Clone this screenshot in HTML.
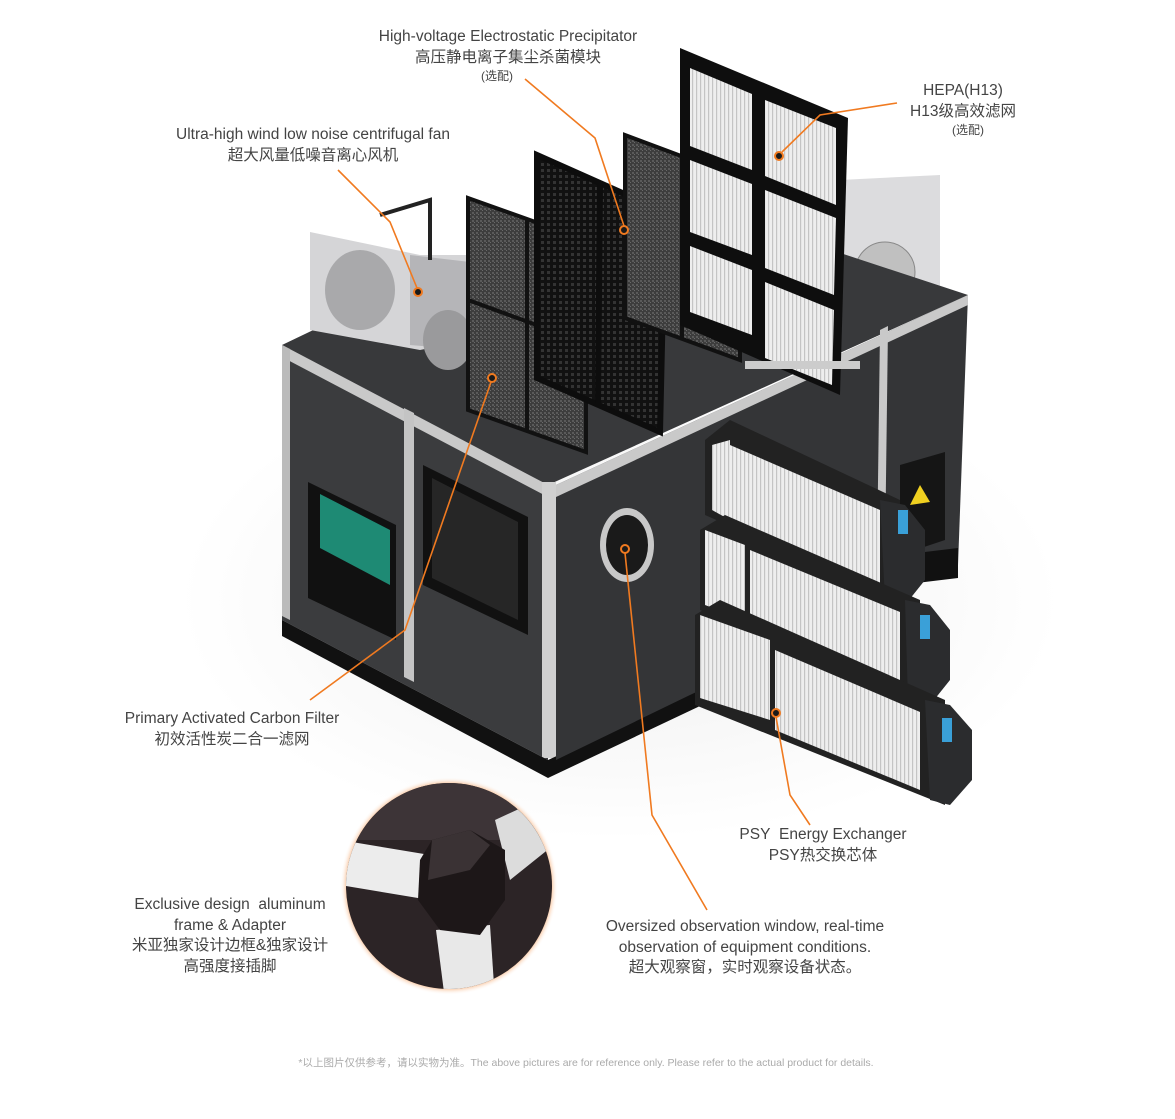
<!DOCTYPE html>
<html><head><meta charset="utf-8"><style>
html,body{margin:0;padding:0;background:#fff;}
body{width:1175px;height:1119px;position:relative;overflow:hidden;font-family:"Liberation Sans","Noto Sans CJK SC",sans-serif;}
.t{position:absolute;text-align:center;color:#444;font-size:15.5px;line-height:20.5px;white-space:nowrap;transform:translateX(-50%);}
.s{font-size:12px;line-height:14px;}
</style></head><body>
<svg width="1175" height="1119" style="position:absolute;left:0;top:0">
<defs>
<pattern id="carb" width="4" height="4" patternUnits="userSpaceOnUse"><rect width="4" height="4" fill="#3d3d3d"/><rect width="2" height="2" fill="#5a5a5a"/><rect x="2" y="2" width="1" height="1" fill="#6a6a6a"/></pattern>
<pattern id="grid" width="6" height="6" patternUnits="userSpaceOnUse"><rect width="6" height="6" fill="#111"/><rect x="1" y="1" width="3" height="3" fill="#333"/></pattern>
<pattern id="fin" width="4" height="10" patternUnits="userSpaceOnUse"><rect width="4" height="10" fill="#eeeeee"/><rect width="1.2" height="10" fill="#c4c4c4"/></pattern>
<radialGradient id="glow" cx="50%" cy="50%" r="50%"><stop offset="92%" stop-color="#f4a060"/><stop offset="100%" stop-color="#fff" stop-opacity="0"/></radialGradient>
<radialGradient id="sh" cx="50%" cy="50%" r="50%"><stop offset="0%" stop-color="#eeeeee"/><stop offset="100%" stop-color="#fff"/></radialGradient>
<clipPath id="cc"><circle cx="449" cy="886" r="103"/></clipPath>
</defs>
<ellipse cx="620" cy="600" rx="440" ry="240" fill="url(#sh)"/>
<!-- right fan -->
<polygon points="840,180 940,175 940,300 840,300" fill="#dcdcde"/>
<circle cx="885" cy="272" r="30" fill="#c0c0c0" stroke="#888"/>
<!-- top face -->
<polygon points="282,345 548,485 968,295 740,220 470,255" fill="#38393b"/>
<!-- left face -->
<polygon points="282,345 548,485 548,760 282,620" fill="#3b3c3e"/>
<polygon points="282,345 548,485 548,497 282,357" fill="#c9c9c9"/>
<polygon points="404,408 414,413 414,682 404,677" fill="#c4c4c4"/>
<polygon points="282,345 290,349 290,620 282,616" fill="#bbb"/>
<polygon points="542,482 556,482 556,758 542,758" fill="#d0d0d0"/>
<polygon points="308,482 396,525 396,640 308,598" fill="#111"/>
<polygon points="320,494 390,530 390,585 320,548" fill="#1e8a74"/>
<polygon points="423,465 528,517 528,635 423,585" fill="#111"/>
<polygon points="432,478 518,522 518,620 432,578" fill="#262626"/>
<polygon points="282,620 548,760 548,778 282,636" fill="#111"/>
<polygon points="548,760 700,690 700,706 548,778" fill="#111"/>
<!-- right face -->
<polygon points="556,485 968,295 958,565 556,760" fill="#343537"/>
<polygon points="556,485 968,295 968,305 556,497" fill="#c9c9c9"/>
<polygon points="880,330 888,326 885,555 877,558" fill="#c9c9c9"/>
<polygon points="900,465 945,452 945,540 900,555" fill="#151515"/>
<polygon points="920,485 930,502 910,505" fill="#f0d020"/>
<polygon points="900,555 958,548 958,578 900,585" fill="#111"/>
<ellipse cx="627" cy="545" rx="27" ry="37" fill="#c8c8c8"/>
<ellipse cx="627" cy="545" rx="21" ry="30" fill="#1a1a1a"/>
<!-- left fan -->
<polygon points="310,232 420,255 470,255 470,340 420,350 310,330" fill="#d5d5d7"/>
<polygon points="410,255 470,262 470,350 410,345" fill="#b5b5b8"/>
<ellipse cx="360" cy="290" rx="35" ry="40" fill="#a9a9ab"/>
<ellipse cx="448" cy="340" rx="25" ry="30" fill="#9a9a9c"/>
<polyline points="380,215 430,200 430,260" fill="none" stroke="#222" stroke-width="4"/>
<!-- carbon filter -->
<polygon points="468,198 586,240 586,452 468,410" fill="url(#carb)" stroke="#111" stroke-width="4"/>
<line x1="527" y1="219" x2="527" y2="431" stroke="#111" stroke-width="4"/>
<line x1="468" y1="300" x2="586" y2="343" stroke="#111" stroke-width="4"/>
<polygon points="537,155 665,212 660,432 537,378" fill="url(#grid)" stroke="#0d0d0d" stroke-width="6"/>
<line x1="600" y1="183" x2="598" y2="405" stroke="#0d0d0d" stroke-width="6"/>
<polygon points="625,135 740,178 740,360 625,318" fill="url(#carb)" stroke="#111" stroke-width="4"/>
<line x1="682" y1="156" x2="682" y2="340" stroke="#111" stroke-width="4"/>
<!-- HEPA -->
<polygon points="680,48 848,118 840,395 680,325" fill="#0e0e0e"/>
<polygon points="690,68 752,94 752,170 690,146" fill="url(#fin)"/>
<polygon points="765,100 836,128 836,205 765,176" fill="url(#fin)"/>
<polygon points="690,160 752,184 752,255 690,232" fill="url(#fin)"/>
<polygon points="765,190 836,218 834,295 765,268" fill="url(#fin)"/>
<polygon points="690,246 752,270 752,335 690,312" fill="url(#fin)"/>
<polygon points="765,282 834,310 832,385 765,358" fill="url(#fin)"/>
<line x1="745" y1="365" x2="860" y2="365" stroke="#ccc" stroke-width="8"/>
<!-- exchangers -->
<g>
<polygon points="705,440 730,420 900,500 900,600 705,515" fill="#222"/>
<polygon points="730,445 880,510 880,590 730,525" fill="url(#fin)"/>
<polygon points="712,445 730,440 730,520 712,510" fill="url(#fin)"/>
<polygon points="880,500 905,505 925,530 925,580 905,605 885,600" fill="#2b2c2e"/>
<rect x="898" y="510" width="10" height="24" fill="#3aa0d8"/>
</g>
<g>
<polygon points="700,530 725,515 920,600 920,700 700,610" fill="#222"/>
<polygon points="750,550 900,612 900,690 750,630" fill="url(#fin)"/>
<polygon points="705,530 745,545 745,620 705,605" fill="url(#fin)"/>
<polygon points="905,600 930,605 950,630 950,680 930,705 908,700" fill="#2b2c2e"/>
<rect x="920" y="615" width="10" height="24" fill="#3aa0d8"/>
</g>
<g>
<polygon points="695,615 720,600 945,700 945,805 695,705" fill="#222"/>
<polygon points="775,650 920,712 920,790 775,730" fill="url(#fin)"/>
<polygon points="700,615 770,640 770,720 700,698" fill="url(#fin)"/>
<polygon points="925,700 950,705 972,730 972,780 950,805 930,800" fill="#2b2c2e"/>
<rect x="942" y="718" width="10" height="24" fill="#3aa0d8"/>
</g>
<!-- circle inset -->
<circle cx="449" cy="886" r="109" fill="url(#glow)"/>
<g clip-path="url(#cc)">
<rect x="340" y="780" width="220" height="220" fill="#2c2426"/>
<rect x="340" y="780" width="220" height="60" fill="#3d3437"/>
<polygon points="340,840 430,855 430,900 340,885" fill="#ececec"/>
<polygon points="495,820 560,790 560,840 510,880" fill="#dcdcdc"/>
<polygon points="436,930 490,925 495,1000 445,1000" fill="#e8e8e8"/>
<polygon points="432,840 470,830 505,850 505,900 480,935 440,930 418,900 420,860" fill="#1d1718"/>
<polygon points="432,840 470,830 490,845 470,870 428,880" fill="#3a3234"/>
</g>
<g fill="none" stroke="#f07a20" stroke-width="1.6">
<polyline points="525,79 595,138 624,226"/>
<polyline points="897,103 820,115 782,152"/>
<polyline points="338,170 390,222 417,288"/>
<polyline points="310,700 405,630 491,382"/>
<polyline points="707,910 652,815 625,553"/>
<polyline points="810,825 790,795 776,717"/>
</g>
<g fill="#1a1a1a" stroke="#f07a20" stroke-width="2">
<circle cx="624" cy="230" r="4"/><circle cx="779" cy="156" r="4"/><circle cx="418" cy="292" r="4"/>
<circle cx="492" cy="378" r="4"/><circle cx="625" cy="549" r="4"/><circle cx="776" cy="713" r="4"/>
</g>
</svg>
<div class="t" style="left:508px;top:27px">High-voltage Electrostatic Precipitator<br>高压静电离子集尘杀菌模块</div>
<div class="t s" style="left:497px;top:69px">(选配)</div>
<div class="t" style="left:963px;top:81px">HEPA(H13)<br>H13级高效滤网</div>
<div class="t s" style="left:968px;top:123px">(选配)</div>
<div class="t" style="left:313px;top:125px">Ultra-high wind low noise centrifugal fan<br>超大风量低噪音离心风机</div>
<div class="t" style="left:232px;top:709px">Primary Activated Carbon Filter<br>初效活性炭二合一滤网</div>
<div class="t" style="left:823px;top:825px">PSY&nbsp; Energy Exchanger<br>PSY热交换芯体</div>
<div class="t" style="left:230px;top:895px">Exclusive design&nbsp; aluminum<br>frame &amp; Adapter<br>米亚独家设计边框&amp;独家设计<br>高强度接插脚</div>
<div class="t" style="left:745px;top:917px">Oversized observation window, real-time<br>observation of equipment conditions.<br>超大观察窗，实时观察设备状态。</div>
<div class="t" style="left:586px;top:1056px;font-size:10.5px;color:#aaa;line-height:14px">*以上图片仅供参考，请以实物为准。The above pictures are for reference only. Please refer to the actual product for details.</div>
</body></html>
